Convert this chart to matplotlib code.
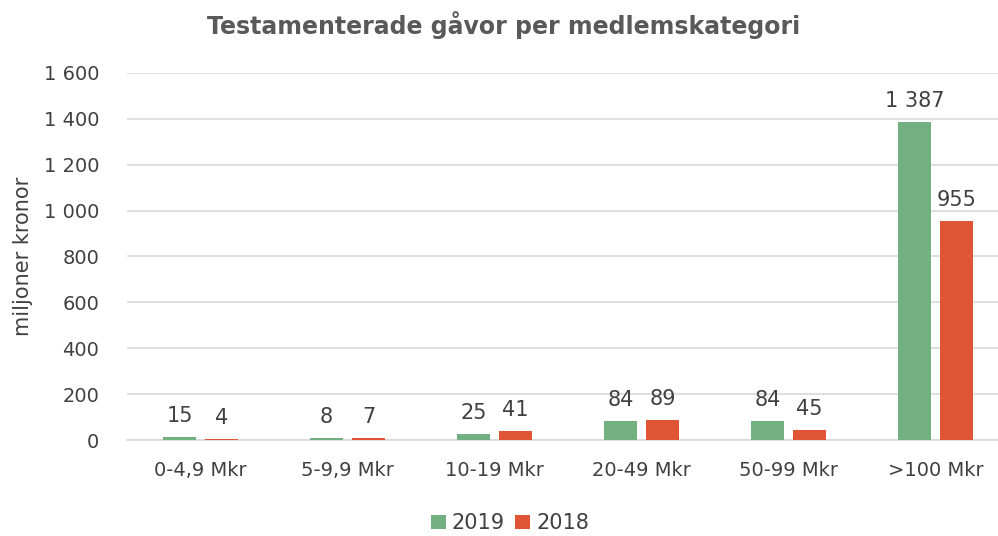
import numpy as np
import matplotlib.pyplot as plt

categories = ['0-4,9 Mkr', '5-9,9 Mkr', '10-19 Mkr', '20-49 Mkr', '50-99 Mkr', '>100 Mkr']
values_2019 = [15, 8, 25, 84, 84, 1387]
values_2018 = [4, 7, 41, 89, 45, 955]
yticks = [0, 200, 400, 600, 800, 1000, 1200, 1400, 1600]

green = '#72B081'
red = '#E05533'
txt = '#404040'

plt.rcParams['font.family'] = ['DejaVu Sans']

def fmt(v):
    return f'{v:,}'.replace(',', ' ')

fig = plt.figure(figsize=(9.98, 5.36), dpi=100)
# the plot area runs a bit past the right edge of the picture, as in the original
ax = fig.add_axes([0.1273, 0.179, 0.884, 0.685])

x = np.arange(len(categories))
w = 0.224
off = 0.143
b1 = ax.bar(x - off, values_2019, w, color=green, label='2019', zorder=3)
b2 = ax.bar(x + off, values_2018, w, color=red, label='2018', zorder=3)

for bars, vals in [(b1, values_2019), (b2, values_2018)]:
    for r, v in zip(bars, vals):
        ax.annotate(fmt(v), (r.get_x() + r.get_width() / 2, v), xytext=(0, 8),
                    textcoords='offset points', ha='center', va='bottom',
                    fontsize=15, color=txt)

ax.set_xlim(-0.5, len(categories) - 0.5)
ax.set_ylim(0, 1600)
ax.set_yticks(yticks)
ax.set_yticklabels([fmt(t) for t in yticks])
ax.set_xticks(x)
ax.set_xticklabels(categories)
ax.tick_params(axis='both', length=0, labelsize=14, colors=txt)
ax.tick_params(axis='x', pad=15)
ax.tick_params(axis='y', pad=20)
ax.grid(axis='y', color='#D9D9D9', linewidth=1.2, zorder=0)
for s in ['top', 'right', 'left']:
    ax.spines[s].set_visible(False)
ax.spines['bottom'].set_color('#D9D9D9')
ax.spines['bottom'].set_linewidth(1.2)

ax.set_ylabel('miljoner kronor', fontsize=15, color=txt, labelpad=8)
fig.text(0.505, 0.953, 'Testamenterade gåvor per medlemskategori', ha='center', va='center',
         fontsize=17, fontweight='bold', color='#595959')

fig.legend(loc='center', bbox_to_anchor=(0.511, 0.024), ncol=2, frameon=False,
           fontsize=15, handlelength=0.7, handleheight=0.7, handletextpad=0.3,
           columnspacing=0.5, labelcolor=txt)

fig.savefig('out.png', dpi=100)
